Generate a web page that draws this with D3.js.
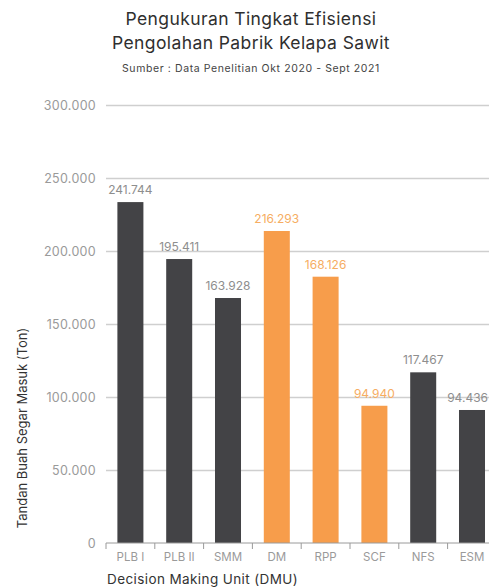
<!DOCTYPE html>
<html>
<head>
<meta charset="utf-8">
<script src="https://cdn.jsdelivr.net/npm/d3@7"></script>
<style>
  html, body { margin: 0; padding: 0; background: #fff; }
  svg { display: block; }
  text { font-family: "Inter", "Open Sans", sans-serif; }
</style>
</head>
<body>
<svg id="chart" width="489" height="588"></svg>
<script>
// ---- data ----
const categories = ["PLB I", "PLB II", "SMM", "DM", "RPP", "SCF", "NFS", "ESM"];
// bar heights as drawn in the picture (ton)
const values = [233500, 194500, 167800, 213700, 182400, 94000, 116900, 91100];
// value labels as printed above the bars
const valueLabels = ["241.744", "195.411", "163.928", "216.293", "168.126", "94.940", "117.467", "94.436"];
const highlighted = [false, false, false, true, true, true, false, false];
const yTicks = [0, 50000, 100000, 150000, 200000, 250000, 300000];

const titleLines = ["Pengukuran Tingkat Efisiensi", "Pengolahan Pabrik Kelapa Sawit"];
const subtitle = "Sumber : Data Penelitian Okt 2020 - Sept 2021";
const yTitle = "Tandan Buah Segar Masuk (Ton)";
const xTitle = "Decision Making Unit (DMU)";

// ---- drawing ----
const svg = d3.select("#chart");
const W = 489;
const left = 106, step = 48.8;
const x = d3.scaleBand().domain(categories)
  .range([left, left + step * categories.length])
  .paddingInner(0.467).paddingOuter(0.2335);
const y = d3.scaleLinear().domain([0, 300000]).range([543, 105]);
const fmt = d3.formatLocale({decimal: ",", thousands: ".", grouping: [3], currency: ["", ""]}).format(",");

const darkCol = "#434346", orangeCol = "#F79D4B";

// title
svg.selectAll("text.title").data(titleLines).join("text")
  .attr("class", "title")
  .attr("x", 251).attr("y", (d, i) => 25 + i * 24)
  .attr("text-anchor", "middle")
  .attr("font-size", 17.5).attr("letter-spacing", 0.4).attr("fill", "#2f2f2f")
  .text(d => d);
svg.append("text")
  .attr("x", 251).attr("y", 72)
  .attr("text-anchor", "middle")
  .attr("font-size", 10.5).attr("letter-spacing", 0.6).attr("fill", "#444")
  .text(subtitle);

// grid + y axis labels
const yAxis = d3.axisLeft(y).tickValues(yTicks).tickFormat(d => d === 0 ? "0" : fmt(d))
  .tickSize(-(W - left)).tickPadding(10);
const gy = svg.append("g").attr("transform", `translate(${left},0)`).call(yAxis);
gy.select(".domain").remove();
gy.selectAll(".tick line").attr("stroke", "#cfcfcf").attr("stroke-width", 1.4)
  .filter(d => d === 0).remove();
gy.selectAll(".tick text").attr("fill", "#9a9a9a").attr("font-size", 12.5)
  .attr("letter-spacing", 0.3)
  .attr("font-family", "Inter, 'Open Sans', sans-serif");

// bars
svg.selectAll("rect.bar").data(categories).join("rect")
  .attr("class", "bar")
  .attr("x", d => x(d))
  .attr("width", x.bandwidth())
  .attr("y", (d, i) => y(values[i]))
  .attr("height", (d, i) => y(0) - y(values[i]))
  .attr("fill", (d, i) => highlighted[i] ? orangeCol : darkCol);

// value labels (kept inside the canvas)
svg.selectAll("text.vlabel").data(categories).join("text")
  .attr("class", "vlabel")
  .attr("y", (d, i) => y(values[i]) - 8)
  .attr("text-anchor", "middle")
  .attr("font-size", 12)
  .attr("fill", (d, i) => highlighted[i] ? "#F6AD62" : "#8e8e8e")
  .text((d, i) => valueLabels[i])
  .attr("x", function(d) {
    const cx = x(d) + x.bandwidth() / 2;
    const half = this.getComputedTextLength() / 2;
    return Math.min(cx, W - 1 - half);
  });

// x axis
const gx = svg.append("g");
gx.append("line").attr("x1", left).attr("x2", W).attr("y1", y(0)).attr("y2", y(0))
  .attr("stroke", "#9a9a9a").attr("stroke-width", 1);
const boundaries = d3.range(categories.length + 1).map(i => left + i * x.step());
gx.selectAll("line.tk").data(boundaries).join("line")
  .attr("class", "tk")
  .attr("x1", d => d).attr("x2", d => d)
  .attr("y1", y(0)).attr("y2", y(0) + 6)
  .attr("stroke", "#9a9a9a");
gx.selectAll("text.xl").data(categories).join("text")
  .attr("class", "xl")
  .attr("x", d => x(d) + x.bandwidth() / 2)
  .attr("y", 561)
  .attr("text-anchor", "middle")
  .attr("font-size", 11.5).attr("fill", "#9a9a9a")
  .text(d => d);

// axis titles
svg.append("text")
  .attr("transform", "translate(27,428) rotate(-90)")
  .attr("text-anchor", "middle")
  .attr("font-size", 13).attr("fill", "#333")
  .text(yTitle);
svg.append("text")
  .attr("x", 107).attr("y", 584)
  .attr("font-size", 13.5).attr("letter-spacing", 0.4).attr("fill", "#333")
  .text(xTitle);
</script>
</body>
</html>
